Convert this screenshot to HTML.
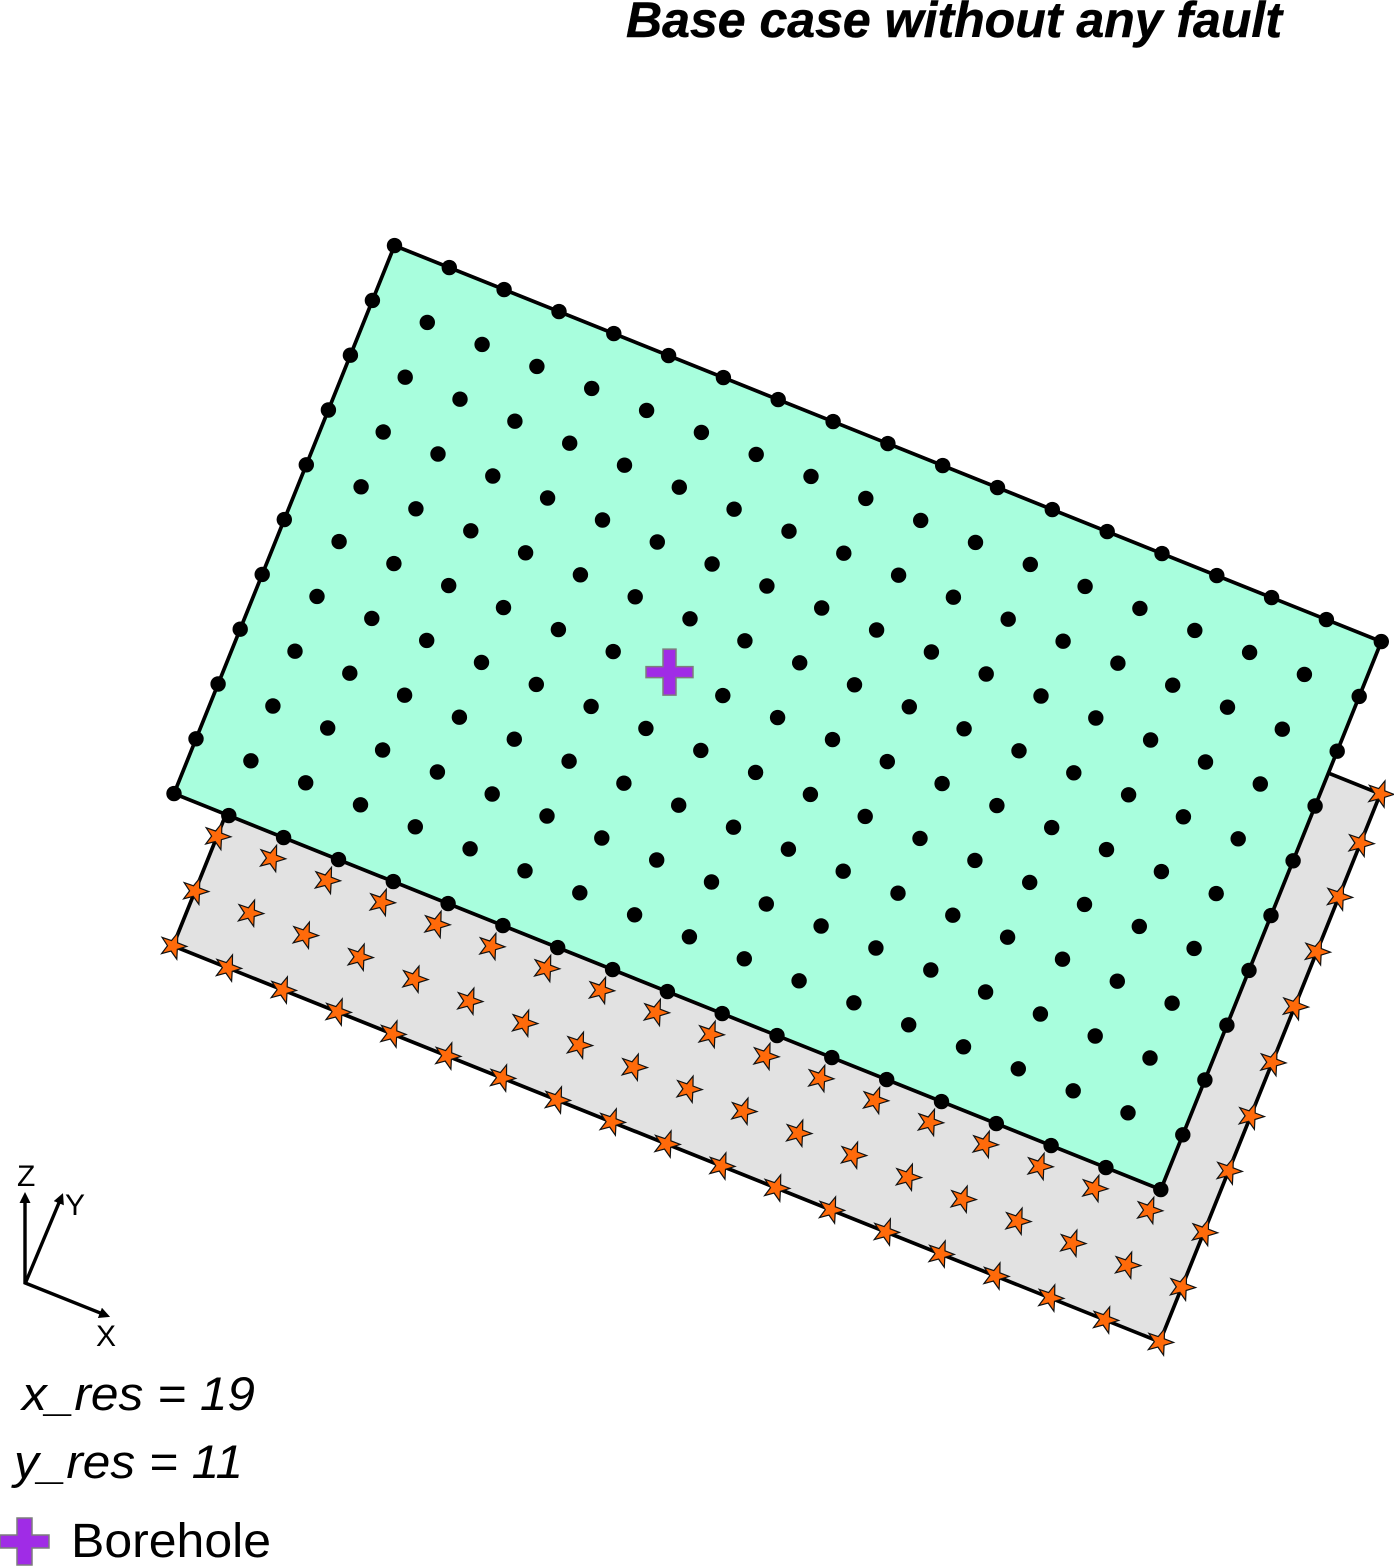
<!DOCTYPE html>
<html lang="en">
<head>
<meta charset="utf-8">
<title>Base case without any fault</title>
<style>
html,body{margin:0;padding:0;background:#fff;}
svg{display:block;}
text{font-family:"Liberation Sans",sans-serif;fill:#000;}
</style>
</head>
<body>
<svg id="chart" xmlns="http://www.w3.org/2000/svg" width="1394" height="1566" viewBox="0 0 1394 1566">
  <defs>
    <marker id="arrow-head" markerUnits="userSpaceOnUse" markerWidth="14" markerHeight="12" refX="5" refY="5.5" orient="auto">
      <path d="M0,0 L11,5.5 L0,11 Z" fill="#000"/>
    </marker>
  </defs>
  <text x="626" y="37" font-size="50" font-weight="bold" font-style="italic" stroke="#000" stroke-width="0.5" textLength="656" lengthAdjust="spacingAndGlyphs">Base case without any fault</text>
  <g id="plot"></g>
  <g>
    <line x1="25" y1="1284" x2="25" y2="1198" stroke="#000" stroke-width="3.4" marker-end="url(#arrow-head)"/>
    <line x1="25" y1="1284" x2="60.7" y2="1198.6" stroke="#000" stroke-width="3.4" marker-end="url(#arrow-head)"/>
    <line x1="24" y1="1282.5" x2="104.5" y2="1314.7" stroke="#000" stroke-width="3.4" marker-end="url(#arrow-head)"/>
    <text x="17" y="1186" font-size="30">Z</text>
    <text x="65" y="1215" font-size="30">Y</text>
    <text x="96" y="1346" font-size="30">X</text>
  </g>
  <text x="22" y="1410" font-size="47" font-style="italic" textLength="233" lengthAdjust="spacingAndGlyphs">x_res = 19</text>
  <text x="14" y="1478" font-size="47" font-style="italic" textLength="229" lengthAdjust="spacingAndGlyphs">y_res = 11</text>
  <g>
    <polygon points="17,1518 32,1518 32,1535 49,1535 49,1548 32,1548 32,1565 17,1565 17,1548 0,1548 0,1535 17,1535" fill="#a02ce6" stroke="#7d7d7d" stroke-width="1.5"/>
    <text x="71" y="1557" font-size="48" textLength="200" lengthAdjust="spacingAndGlyphs">Borehole</text>
  </g>
</svg>
<script>
// Grid node indices along the model X and Y directions
const xNodes = [0,1,2,3,4,5,6,7,8,9,10,11,12,13,14,15,16,17,18];
const yNodes = [0,1,2,3,4,5,6,7,8,9,10];
// Lower-layer star rows visible in front of the upper plate
const lowerStarRows = [8,9,10];
// Lower-layer star Y coordinates along the right-hand edge
const rightEdgeStarY = [0,0.9,1.88,2.88,3.88,4.9,5.88,6.88,8,9,10];
// Layer elevations: lower star layer and upper dot layer
const lowerLayerZ = 0;
const upperLayerZ = 1;
// Borehole location in grid indices
const boreholeX = 7;
const boreholeY = 5;

const SVG_NS = 'http://www.w3.org/2000/svg';
const plot = document.getElementById('plot');

function px(x, y, z) { return 394.5 + x * 54.82 - y * 22.05 - (1 - z) * 1; }
function py(y, x, z) { return 245.6 + x * 22 + y * 54.8 + (1 - z) * 152.3; }

function polygonPath(x0, x1, y0, y1, z) {
  return [
    [px(x0, y0, z), py(y0, x0, z)],
    [px(x1, y0, z), py(y0, x1, z)],
    [px(x1, y1, z), py(y1, x1, z)],
    [px(x0, y1, z), py(y1, x0, z)]
  ].map(function (p) { return p[0].toFixed(1) + ',' + p[1].toFixed(1); }).join(' ');
}

function starPoints(cx, cy) {
  const pts = [];
  for (let i = 0; i < 10; i++) {
    const r = i % 2 === 0 ? 13.8 : 5.5;
    const a = (20 + i * 36) * Math.PI / 180;
    pts.push((cx + r * Math.sin(a)).toFixed(1) + ',' + (cy - r * Math.cos(a)).toFixed(1));
  }
  return pts.join(' ');
}

function addStar(i, j) {
  const star = document.createElementNS(SVG_NS, 'polygon');
  
  
  star.setAttribute('points', starPoints(px(i, j, lowerLayerZ), py(j, i, lowerLayerZ)));
  star.setAttribute('fill', '#ff6a0a');
  star.setAttribute('stroke', '#111');
  star.setAttribute('stroke-width', '1.2');
  plot.appendChild(star);
}

const xMin = xNodes[0], xMax = xNodes[xNodes.length - 1];
const yMin = yNodes[0], yMax = yNodes[yNodes.length - 1];

const lowerPlate = document.createElementNS(SVG_NS, 'polygon');


lowerPlate.setAttribute('points', polygonPath(xMin, xMax, yMin, yMax, lowerLayerZ));
lowerPlate.setAttribute('fill', '#e2e2e2');
lowerPlate.setAttribute('stroke', '#000');
lowerPlate.setAttribute('stroke-width', '3.7');
plot.appendChild(lowerPlate);

lowerStarRows.forEach(function (j) {
  xNodes.slice(0, -1).forEach(function (i) {
    addStar(i, j);
  });
});
rightEdgeStarY.forEach(function (j) {
  addStar(xMax, j);
});

const upperPlate = document.createElementNS(SVG_NS, 'polygon');


upperPlate.setAttribute('points', polygonPath(xMin, xMax, yMin, yMax, upperLayerZ));
upperPlate.setAttribute('fill', '#a8fedd');
upperPlate.setAttribute('stroke', '#000');
upperPlate.setAttribute('stroke-width', '3.7');
plot.appendChild(upperPlate);

yNodes.forEach(function (j) {
  xNodes.forEach(function (i) {
    if (i === boreholeX && j === boreholeY) { return; }
    const dot = document.createElementNS(SVG_NS, 'circle');
    
    
    dot.setAttribute('cx', px(i, j, upperLayerZ).toFixed(1));
    dot.setAttribute('cy', py(j, i, upperLayerZ).toFixed(1));
    dot.setAttribute('r', '7.7');
    dot.setAttribute('fill', '#000');
    plot.appendChild(dot);
  });
});

const bx = px(boreholeX, boreholeY, upperLayerZ) + 1.5;
const by = py(boreholeY, boreholeX, upperLayerZ) - 1.5;
const cross = document.createElementNS(SVG_NS, 'polygon');


cross.setAttribute('points', [
  [-6.5,-23],[6.5,-23],[6.5,-5.5],[23.5,-5.5],[23.5,5.5],[6.5,5.5],[6.5,23],[-6.5,23],[-6.5,5.5],[-23.5,5.5],[-23.5,-5.5],[-6.5,-5.5]
].map(function (p) { return (bx + p[0]).toFixed(1) + ',' + (by + p[1]).toFixed(1); }).join(' '));
cross.setAttribute('fill', '#a02ce6');
cross.setAttribute('stroke', '#7d7d7d');
cross.setAttribute('stroke-width', '1.5');
plot.appendChild(cross);
</script>
</body>
</html>
